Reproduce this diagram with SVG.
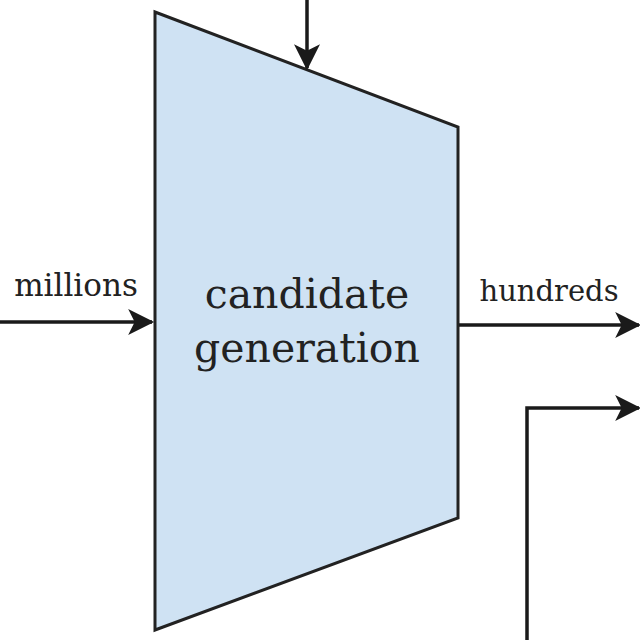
<svg xmlns="http://www.w3.org/2000/svg" width="640" height="640" viewBox="0 0 640 640">
<style>
.c{stroke:#1a1a1a;stroke-width:3.5;fill:none}
.t{font-family:"DejaVu Serif","Liberation Serif",serif;fill:#222}
</style>
<defs>
<marker id="a" viewBox="0 0 12 12" refX="11" refY="6" markerWidth="30" markerHeight="26" markerUnits="userSpaceOnUse" orient="auto">
<path d="M0,0 L12,6 L0,12 L3,6 Z" fill="#1a1a1a"/>
</marker>
</defs>
<rect width="640" height="640" fill="#fff"/>
<g id="gen">
<polygon points="155,12 458,127 458,518 155,630" fill="#cfe2f3" stroke="#222" stroke-width="3"/>
<text class="t" x="307" y="308" font-size="41" text-anchor="middle">candidate</text>
<text class="t" x="307" y="362" font-size="41" text-anchor="middle">generation</text>
</g>
<g id="connectors">
<line class="c" x1="307" y1="0" x2="307" y2="68" marker-end="url(#a)"/>
<line class="c" x1="0" y1="322" x2="152" y2="322" marker-end="url(#a)"/>
<line class="c" x1="459" y1="325" x2="639" y2="325" marker-end="url(#a)"/>
<polyline class="c" points="527,640 527,408 639,408" marker-end="url(#a)"/>
</g>
<text class="t" x="76" y="296" font-size="31" text-anchor="middle">millions</text>
<text class="t" x="549" y="301" font-size="29" text-anchor="middle">hundreds</text>
</svg>
